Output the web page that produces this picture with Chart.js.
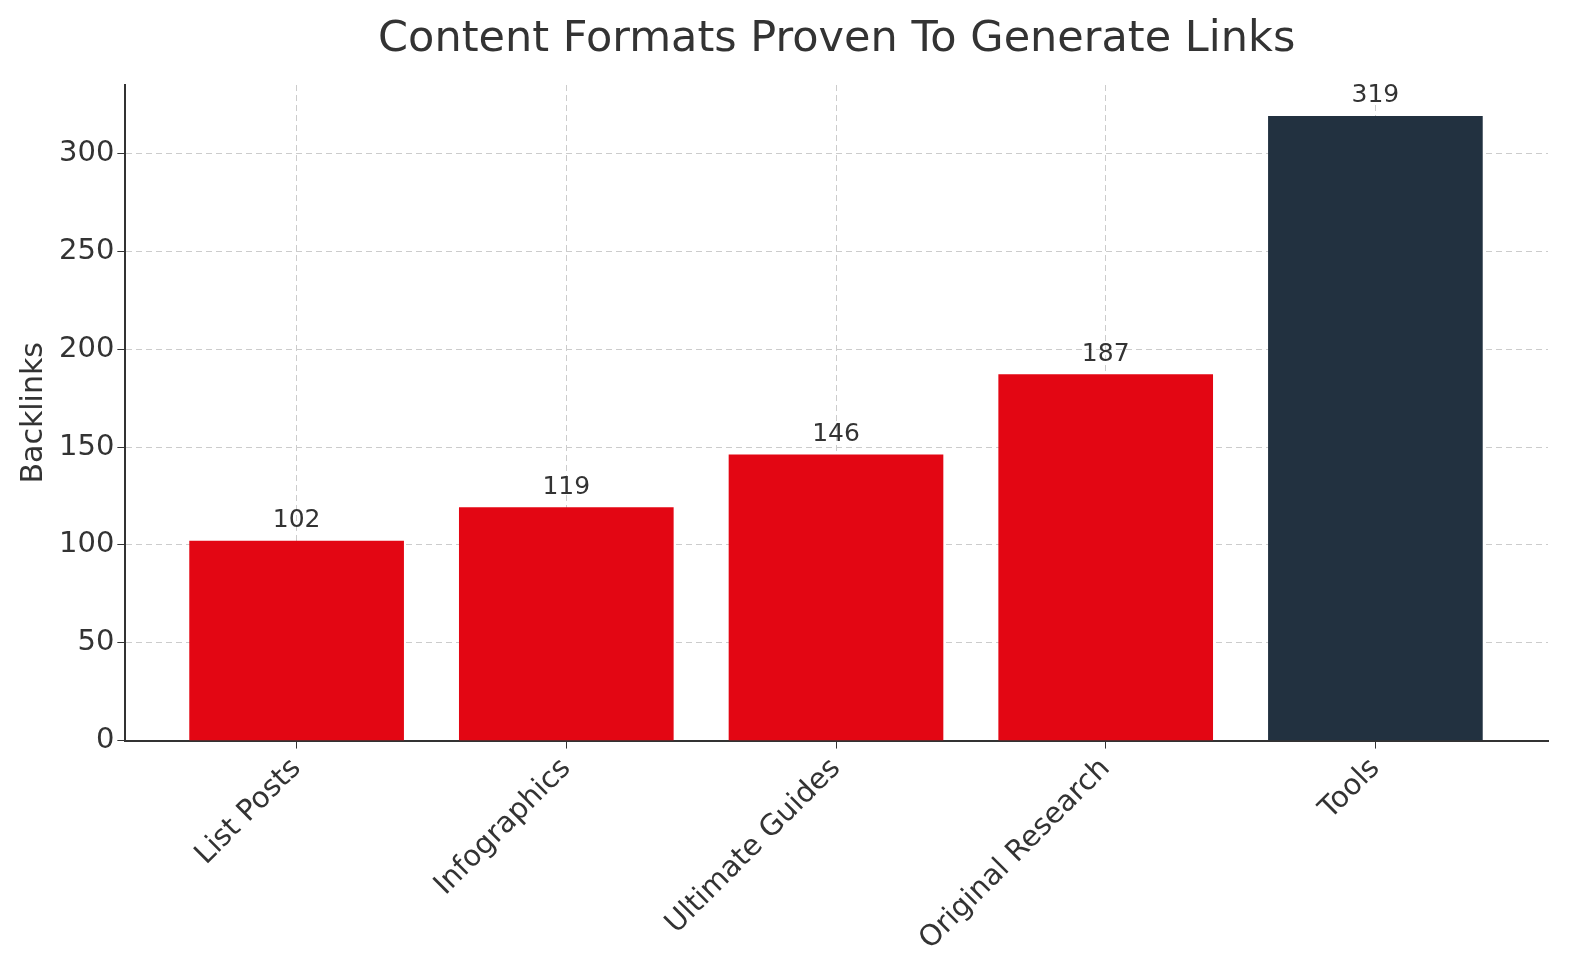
<!DOCTYPE html><html><head><script src="https://cdn.jsdelivr.net/npm/chart.js@4"></script>
<style>body{margin:0;background:#fff}#w{width:1580px;height:980px}</style></head><body><div id="w"><canvas id="c"></canvas></div>
<script>
const categories=["List Posts","Infographics","Ultimate Guides","Original Research","Tools"];
const values=[102,119,146,187,319];
const colors=["#e30613","#e30613","#e30613","#e30613","#223140"];
const yTicks=[0,50,100,150,200,250,300];
const titleText='Content Formats Proven To Generate Links';
const F='"DejaVu Sans"';
const labelPlugin={id:'lbl',afterDatasetsDraw(ch){const c=ch.ctx;const m=ch.getDatasetMeta(0);c.save();c.font='25px '+F;c.fillStyle='#333';c.textAlign='center';c.textBaseline='bottom';m.data.forEach((b,i)=>c.fillText(values[i],b.x,b.y-8));
const a=ch.chartArea;c.font='43px '+F;c.textBaseline='middle';c.fillText(titleText,(a.left+a.right)/2,40);c.restore();}};
new Chart(document.getElementById('c'),{type:'bar',
data:{datasets:[{data:values.map((v,i)=>({x:i,y:v})),backgroundColor:colors,barThickness:214}]},
plugins:[labelPlugin],
options:{responsive:true,maintainAspectRatio:false,animation:false,
layout:{padding:{left:12,right:32,top:85,bottom:20}},
plugins:{legend:{display:false},tooltip:{enabled:false},title:{display:false}},
scales:{
x:{type:'linear',min:-0.635,max:4.64,offset:false,
afterBuildTicks(a){a.ticks=categories.map((_,i)=>({value:i}));},
ticks:{autoSkip:false,maxRotation:45,minRotation:45,color:'#333',font:{family:F,size:29},callback:v=>categories[v]??''},
grid:{offset:false,color:'#ccc',tickColor:'#333',tickLength:8,drawTicks:true},
border:{color:'#333',width:2,dash:[6,4]}},
y:{min:0,max:335,
afterBuildTicks(a){a.ticks=yTicks.map(v=>({value:v}));},
title:{display:true,text:'Backlinks',color:'#333',font:{family:F,size:30}},
ticks:{color:'#333',font:{family:F,size:29}},
grid:{color:'#ccc',tickColor:'#333',tickLength:8},
border:{color:'#333',width:2,dash:[6,4]}}}}});
</script></body></html>
